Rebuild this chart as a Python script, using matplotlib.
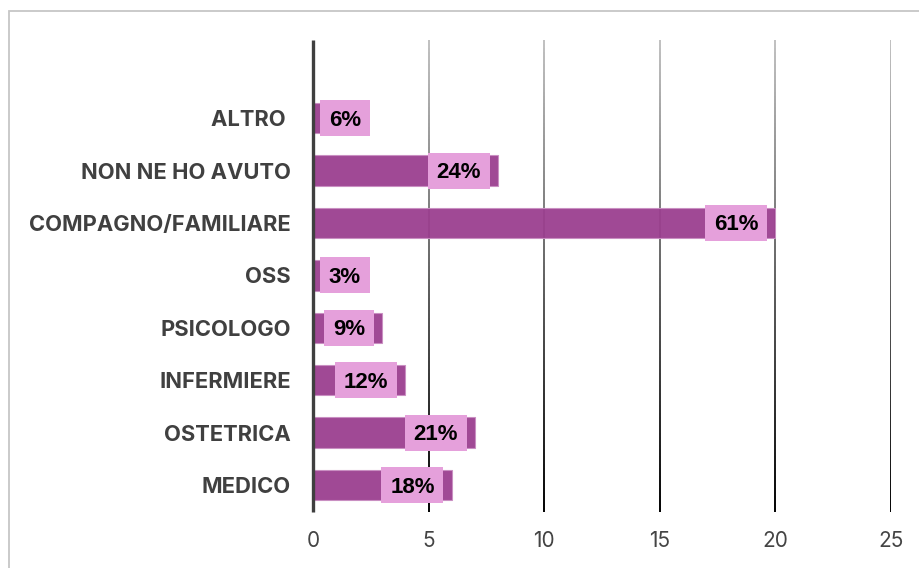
import numpy as np
import matplotlib.pyplot as plt
from matplotlib.collections import LineCollection
from matplotlib.patches import Rectangle

# categorie (dal basso verso l'alto) e conteggi delle risposte
categorie = ["MEDICO", "OSTETRICA", "INFERMIERE", "PSICOLOGO", "OSS",
             "COMPAGNO/FAMILIARE", "NON NE HO AVUTO", "ALTRO "]
conteggi = [6, 7, 4, 3, 1, 20, 8, 2]
percentuali = ["18%", "21%", "12%", "9%", "3%", "61%", "24%", "6%"]
xticks = [0, 5, 10, 15, 20, 25]

plt.rcParams['font.family'] = ['Inter', 'DejaVu Sans']

fig = plt.figure(figsize=(9.2, 5.68), dpi=100)
ax = fig.add_axes([313/920, 1-512/568, 578/920, 472/568])

y = np.arange(len(categorie))
ymin, ymax = -0.515, 8.49
ux = 578 / 25.0          # pixel per unità sull'asse x
uy = 472 / (ymax - ymin)  # pixel per unità sull'asse y

# griglia verticale sfumata (grigio chiaro in alto, nero in basso)
ys = np.linspace(ymin, ymax, 120)
for xt in xticks[1:]:
    segs = [[(xt, ys[i]), (xt, ys[i+1])] for i in range(len(ys)-1)]
    t = (ys[:-1] - ymin) / (ymax - ymin)
    cols = [(0.76*tt, 0.76*tt, 0.76*tt, 1) for tt in t]
    ax.add_collection(LineCollection(segs, colors=cols, linewidths=1.4, zorder=0))

ax.barh(y, conteggi, height=0.58, color='#9b3f8f', alpha=0.95,
        edgecolor='#c98ec2', linewidth=0.8, zorder=2)

# asse dello zero
ax.plot([0, 0], [ymin, ymax], color='#3f3f3f', lw=2.4, zorder=3,
        solid_capstyle='butt', clip_on=False)

# etichette percentuali con riquadro rosa
for yi, v, p in zip(y, conteggi, percentuali):
    w = (50 if len(p) == 2 else 62) / ux
    h = 36 / uy
    xr = max(v - 0.36, 0.3 + w)
    ax.add_patch(Rectangle((xr - w, yi - h/2), w, h, fc='#e5a0db', ec='none', zorder=3))
    ax.text(xr - w/2, yi - 2/uy, p, ha='center', va='center', fontsize=16,
            fontweight='bold', family='Liberation Sans', color='black', zorder=4)

ax.set_xlim(0, 25)
ax.set_ylim(ymin, ymax)
ax.set_xticks(xticks)
ax.set_yticks(y)
ax.set_yticklabels(categorie, fontsize=15.8, fontweight='bold', color='#404040')
ax.tick_params(axis='y', length=0, pad=16)
ax.tick_params(axis='x', length=0, pad=14, labelsize=15, labelcolor='#444444')
for s in ax.spines.values():
    s.set_visible(False)

# cornice esterna
fig.patches.append(Rectangle((9/920, -0.1), 1.0, 1-11/568+0.1, transform=fig.transFigure,
                             fill=False, ec='#c6c6c6', lw=1.3))

fig.savefig('out.png', dpi=100)
